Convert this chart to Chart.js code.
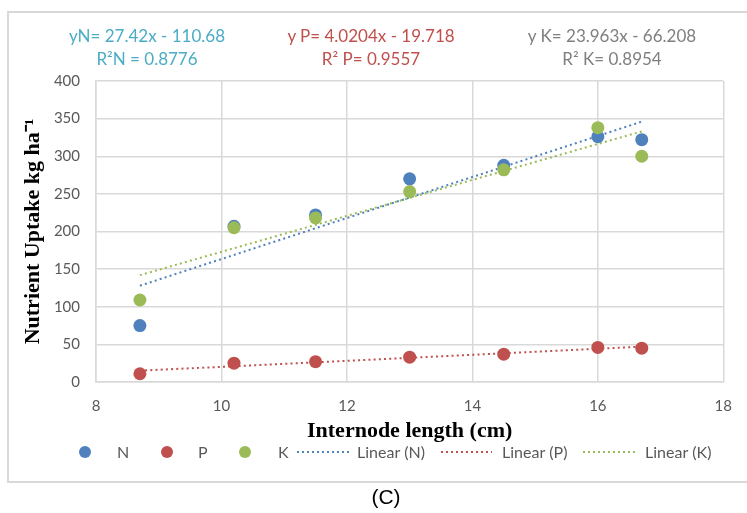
<!DOCTYPE html>
<html>
<head>
<meta charset="utf-8">
<script src="https://cdn.jsdelivr.net/npm/chart.js@4.4.1/dist/chart.umd.min.js"></script>
<style>
html,body{margin:0;padding:0;background:#fff;}
#wrap{position:relative;width:747px;height:513px;overflow:hidden;background:#fff;}
#frame{position:absolute;left:7px;top:11px;width:760px;height:472px;border:2px solid #d9d9d9;box-sizing:border-box;}
#c{position:absolute;left:0;top:0;}
.eq{position:absolute;top:24px;width:240px;font-family:Lato,"Open Sans",sans-serif;font-size:17px;line-height:23px;text-align:center;white-space:nowrap;}
#cap{position:absolute;left:0;top:485px;width:772px;text-align:center;font-family:"Liberation Sans",Arial,sans-serif;font-size:21px;color:#000;}
</style>
</head>
<body>
<div id="wrap">
  <div id="frame"></div>
  <canvas id="c" width="747" height="513"></canvas>
  <div class="eq" style="left:27px;color:#4bacc6">yN= 27.42x - 110.68<br>R²N = 0.8776</div>
  <div class="eq" style="left:251px;color:#c0504d">y P= 4.0204x - 19.718<br>R² P= 0.9557</div>
  <div class="eq" style="left:492px;color:#7f7f7f">y K= 23.963x - 66.208<br>R² K= 0.8954</div>
  <div id="cap">(C)</div>
</div>
<script>
// ---- data ----
const xValues = [8.7, 10.2, 11.5, 13, 14.5, 16, 16.7];
const nValues = [75, 207, 222, 270, 288, 326, 322];
const pValues = [11, 25, 27, 33, 37, 46, 45];
const kValues = [109, 205, 218, 253, 282, 338, 300];
const trendX = [8.7, 16.7];
const trendN = [128, 346];
const trendP = [15, 47];
const trendK = [142, 333];
const xTicks = [8, 10, 12, 14, 16, 18];
const yTicks = [0, 50, 100, 150, 200, 250, 300, 350, 400];
const legendLabels = ['N', 'P', 'K', 'Linear (N)', 'Linear (P)', 'Linear (K)'];

const colN = '#4f81bd', colP = '#c0504d', colK = '#9bbb59';
const pts = (xs, ys) => xs.map((x, i) => ({x: x, y: ys[i]}));

const tickFont = {family: 'Lato, "Open Sans", sans-serif', size: 15};
const titleFont = {family: '"Liberation Serif", "Times New Roman", serif', size: 22, weight: 'bold'};

const legendPlugin = {
  id: 'customLegend',
  afterDraw(chart) {
    const ctx = chart.ctx;
    const y = 452;
    ctx.save();
    ctx.font = '16px Lato, "Open Sans", sans-serif';
    ctx.textBaseline = 'middle';
    const marks = [
      {type: 'dot', c: colN, x: 85, tx: 117},
      {type: 'dot', c: colP, x: 167, tx: 198},
      {type: 'dot', c: colK, x: 245, tx: 278},
      {type: 'line', c: colN, x: 297, x2: 349, tx: 357},
      {type: 'line', c: colP, x: 441, x2: 492, tx: 502},
      {type: 'line', c: colK, x: 583, x2: 635, tx: 645}
    ];
    marks.forEach((m, i) => {
      if (m.type === 'dot') {
        ctx.beginPath();
        ctx.fillStyle = m.c;
        ctx.arc(m.x, y, 6, 0, Math.PI * 2);
        ctx.fill();
      } else {
        ctx.beginPath();
        ctx.strokeStyle = m.c;
        ctx.lineWidth = 2;
        ctx.setLineDash([2, 3]);
        ctx.moveTo(m.x, y);
        ctx.lineTo(m.x2, y);
        ctx.stroke();
        ctx.setLineDash([]);
      }
      ctx.fillStyle = '#595959';
      ctx.fillText(legendLabels[i], m.tx, y + 1);
    });
    ctx.restore();
  }
};

const trendStyle = (c) => ({
  type: 'line', borderColor: c, borderWidth: 2, borderDash: [2, 3.2],
  pointRadius: 0, fill: false, showLine: true, order: 5
});
const pointStyle = (c) => ({
  type: 'scatter', backgroundColor: c, borderWidth: 0, pointRadius: 6.5, showLine: false
});

new Chart(document.getElementById('c'), {
  data: {
    datasets: [
      Object.assign({label: legendLabels[3], data: pts(trendX, trendN)}, trendStyle(colN)),
      Object.assign({label: legendLabels[4], data: pts(trendX, trendP)}, trendStyle(colP)),
      Object.assign({label: legendLabels[5], data: pts(trendX, trendK)}, trendStyle(colK)),
      Object.assign({label: legendLabels[0], data: pts(xValues, nValues), order: 3}, pointStyle(colN)),
      Object.assign({label: legendLabels[1], data: pts(xValues, pValues), order: 2}, pointStyle(colP)),
      Object.assign({label: legendLabels[2], data: pts(xValues, kValues), order: 1}, pointStyle(colK))
    ]
  },
  options: {
    responsive: false,
    animation: false,
    events: [],
    layout: {padding: {left: 20, right: 22, top: 81, bottom: 68}},
    plugins: {legend: {display: false}, tooltip: {enabled: false}},
    scales: {
      x: {
        type: 'linear', min: 8, max: 18,
        afterBuildTicks: (s) => { s.ticks = xTicks.map(v => ({value: v})); },
        afterFit: (s) => { s.height = 63; },
        grid: {color: '#d9d9d9', lineWidth: 1.5, drawTicks: false},
        border: {color: '#d9d9d9', width: 1.5},
        ticks: {font: tickFont, color: '#595959', padding: 15},
        title: {display: true, text: 'Internode length (cm)', font: titleFont, color: '#000', padding: 0}
      },
      y: {
        type: 'linear', min: 0, max: 400,
        afterBuildTicks: (s) => { s.ticks = yTicks.map(v => ({value: v})); },
        afterFit: (s) => { s.width = 76; },
        grid: {color: '#d9d9d9', lineWidth: 1.5, drawTicks: false},
        border: {color: '#d9d9d9', width: 1.5},
        ticks: {font: tickFont, color: '#595959', padding: 16},
        title: {display: true, text: 'Nutrient Uptake kg ha⁻¹', font: titleFont, color: '#000', padding: 0}
      }
    }
  },
  plugins: [legendPlugin]
});
</script>
</body>
</html>
